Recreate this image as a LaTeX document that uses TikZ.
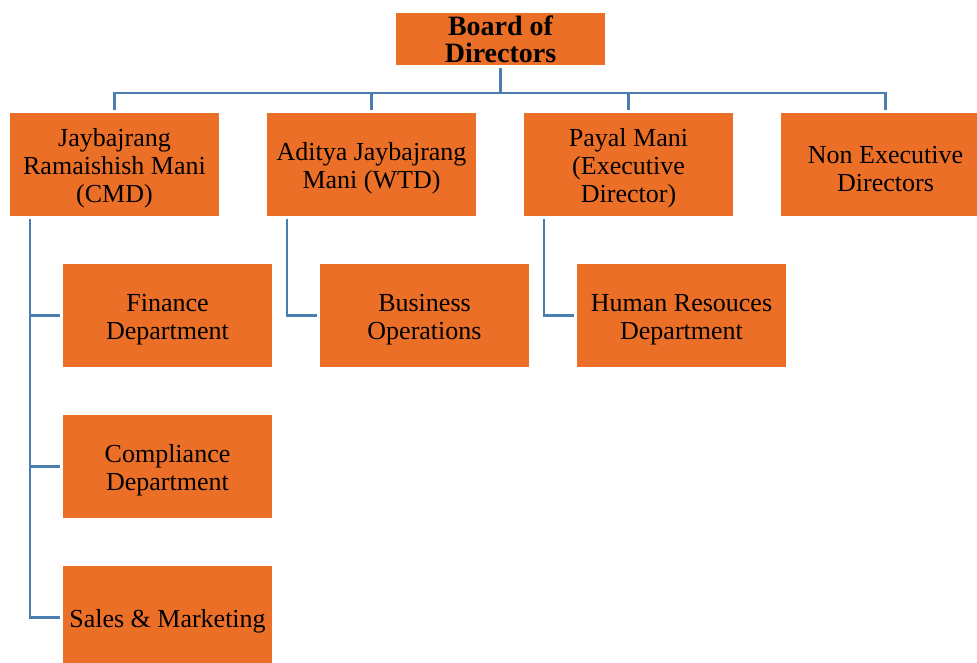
\documentclass[tikz,border=0pt]{standalone}
\usepackage{fontspec}
\setmainfont{Liberation Serif}
\definecolor{boxorange}{HTML}{EC6F27}
\definecolor{linkblue}{HTML}{4A7EB0}
\newcommand\liftup{\rule{0pt}{19pt}}
\begin{document}
\begin{tikzpicture}[x=0.75pt,y=-0.75pt,
  orgbox/.style={fill=boxorange,draw=none,minimum width=157pt,minimum height=77pt,
    inner sep=0pt,outer sep=2.2pt,align=center,font=\fontsize{19.5}{21}\selectfont,text=black},
  topbox/.style={fill=boxorange,draw=none,minimum width=157pt,minimum height=39pt,
    inner sep=0pt,outer sep=2.2pt,align=center,text=black,
    font=\fontsize{21}{20}\selectfont\bfseries},
  link/.style={draw=linkblue,line width=2.2pt}]
\useasboundingbox (0,0) rectangle (977,663);
% nodes
\node[topbox] (board) at (500.5,39) {Board of\\Directors};
\node[orgbox] (cmd) at (114.5,164.5) {\liftup Jaybajrang\\Ramaishish Mani\\(CMD)};
\node[orgbox] (wtd) at (371.5,164.5) {\liftup Aditya Jaybajrang\\Mani (WTD)};
\node[orgbox] (exd) at (628.5,164.5) {\liftup Payal Mani\\(Executive\\Director)};
\node[orgbox] (ned) at (885.5,164.5) {\liftup Non Executive\\Directors};
\node[orgbox] (fin) at (167.5,315.5) {\liftup Finance\\Department};
\node[orgbox] (comp) at (167.5,466.5) {\liftup Compliance\\Department};
\node[orgbox] (sales) at (167.5,617.5) {\liftup Sales \& Marketing};
\node[orgbox] (bops) at (424.5,315.5) {\liftup Business\\Operations};
\node[orgbox] (hr) at (681.5,315.5) {\liftup Human Resouces\\Department};
% bus
\coordinate (bus) at (500,93);
\draw[link] (board.south) -- (board.south |- bus);
\draw[link] (cmd.north) -- (cmd.north |- bus) -- (ned.north |- bus) -- (ned.north);
\draw[link] (wtd.north) -- (wtd.north |- bus);
\draw[link] (exd.north) -- (exd.north |- bus);
% left trunks
\coordinate (cmdx) at (30,219);
\coordinate (wtdx) at (287,219);
\coordinate (exdx) at (544,219);
\draw[link] (cmdx) |- (sales.west);
\draw[link] (fin.west) -- (fin.west -| cmdx);
\draw[link] (comp.west) -- (comp.west -| cmdx);
\draw[link] (wtdx) |- (bops.west);
\draw[link] (exdx) |- (hr.west);
\end{tikzpicture}
\end{document}
